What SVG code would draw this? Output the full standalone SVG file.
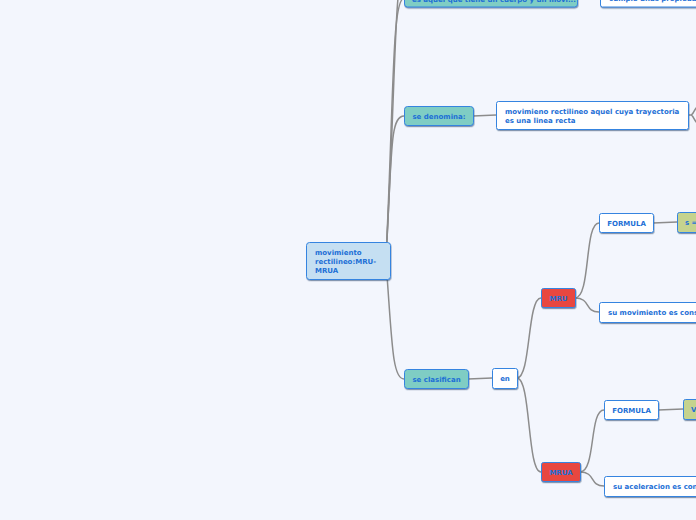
<svg xmlns="http://www.w3.org/2000/svg" width="696" height="520" viewBox="0 0 696 520">
<defs>
<filter id="sh" x="-10%" y="-20%" width="120%" height="150%">
<feDropShadow dx="0.5" dy="1.2" stdDeviation="0.6" flood-color="#2a4a70" flood-opacity="0.55"/>
</filter>
</defs>
<style>
.bg{fill:#f3f6fd}
.c{fill:none;stroke:#8c8c8c;stroke-width:1.5}
.b{stroke:#3484e0;stroke-width:1;filter:url(#sh)}
.w{fill:#ffffff}
.t{fill:#7fcdc4}
.r{fill:#e8473f}
.g{fill:#c5d38e}
.cn{fill:#c5dff2}
text{font-family:"DejaVu Sans","Liberation Sans",sans-serif;font-weight:bold;font-size:7px;fill:#1d6fd6}
.m{text-anchor:middle}
</style>
<rect class="bg" x="0" y="0" width="696" height="520"/>
<g id="connectors">
<path class="c" d="M386,258 C396,80 394,-20 404,-30"/>
<path class="c" d="M386,258 C394,90 392,0 404,-2"/>
<path class="c" d="M386,258 C392,150 390,116 404,116"/>
<path class="c" d="M386,262 C392,340 392,379 404,379"/>
<path class="c" d="M577,-3 L600,-3"/>
<path class="c" d="M473,116 L496,115"/>
<path class="c" d="M688,115 L691,115 C693,115 694,110 697,107 M691,115 C693,115 694,120 697,123"/>
<path class="c" d="M468,379 L492,378"/>
<path class="c" d="M517,378 C531,378 527,298 541,298"/>
<path class="c" d="M517,378 C531,378 527,472 541,472"/>
<path class="c" d="M575,298 C591,298 584,223 599,223"/>
<path class="c" d="M575,298 C591,298 584,312 599,312"/>
<path class="c" d="M653,223 L677,222"/>
<path class="c" d="M580,472 C596,472 589,410 604,410"/>
<path class="c" d="M580,472 C596,472 589,486 604,486"/>
<path class="c" d="M658,410 L683,409"/>
</g>
<g id="central">
<rect class="b cn" x="306.5" y="242.5" width="84" height="37" rx="3"/>
<text x="315" y="255">movimiento</text>
<text x="315" y="264">rectilineo:MRU-</text>
<text x="315" y="273">MRUA</text>
</g>
<g id="n-top">
<rect class="b t" x="404.5" y="-20" width="173" height="27" rx="3"/>
<text x="412" y="2">es aquel que tiene un cuerpo y un movi...</text>
</g>
<g id="n-topright">
<rect class="b w" x="600.5" y="-20" width="100" height="27" rx="2"/>
<text x="609" y="1">cumple unas propiedades</text>
</g>
<g id="n-denomina">
<rect class="b t" x="404.5" y="106.5" width="69" height="19" rx="3"/>
<text class="m" x="439" y="118.5">se denomina:</text>
</g>
<g id="n-def">
<rect class="b w" x="496.5" y="101.5" width="192" height="28" rx="2"/>
<text x="505" y="114">movimieno rectilineo aquel cuya trayectoria</text>
<text x="505" y="123">es una linea recta</text>
</g>
<g id="n-clasifican">
<rect class="b t" x="404.5" y="369.5" width="64" height="19" rx="3"/>
<text class="m" x="436.5" y="381.5">se clasifican</text>
</g>
<g id="n-en">
<rect class="b w" x="492.5" y="368.5" width="25" height="20" rx="2"/>
<text class="m" x="505" y="381">en</text>
</g>
<g id="n-mru">
<rect class="b r" x="541.5" y="288.5" width="34" height="19" rx="2"/>
<text class="m" x="558.5" y="300.5">MRU</text>
</g>
<g id="n-mrua">
<rect class="b r" x="541.5" y="462.5" width="39" height="19" rx="2"/>
<text class="m" x="561" y="474.5">MRUA</text>
</g>
<g id="n-formula1">
<rect class="b w" x="599.5" y="213.5" width="54" height="19" rx="2"/>
<text class="m" x="626.5" y="225.5">FORMULA</text>
</g>
<g id="n-s">
<rect class="b g" x="677.5" y="212.5" width="30" height="20" rx="2"/>
<text x="685" y="225">s =</text>
</g>
<g id="n-mov">
<rect class="b w" x="599.5" y="302.5" width="110" height="20" rx="2"/>
<text x="608" y="315">su movimiento es constante</text>
</g>
<g id="n-formula2">
<rect class="b w" x="604.5" y="400.5" width="54" height="19" rx="2"/>
<text class="m" x="631.5" y="412.5">FORMULA</text>
</g>
<g id="n-v">
<rect class="b g" x="683.5" y="399.5" width="30" height="20" rx="2"/>
<text x="691" y="412">V</text>
</g>
<g id="n-acel">
<rect class="b w" x="604.5" y="476.5" width="110" height="20" rx="2"/>
<text x="613" y="489">su aceleracion es constante</text>
</g>
</svg>
